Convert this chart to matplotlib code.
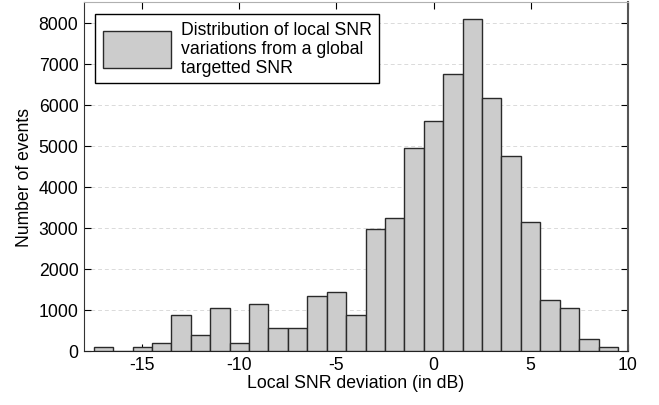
import numpy as np
import matplotlib
matplotlib.use("Agg")
import matplotlib.pyplot as plt

plt.rcParams['font.family'] = ['Liberation Sans', 'DejaVu Sans']
plt.rcParams['axes.unicode_minus'] = False

# bin centers (dB) and counts per 1 dB bin
snr_bins = list(range(-17, 10))
counts = [90, 0, 90, 190, 855, 370, 1040, 190, 1140, 560, 560, 1325, 1425, 855,
          2955, 3230, 4940, 5600, 6745, 8080, 6175, 4750, 3130, 1235, 1040, 285, 80]
x_ticks = [-15, -10, -5, 0, 5, 10]
y_ticks = list(range(0, 9000, 1000))
legend_label = "Distribution of local SNR\nvariations from a global\ntargetted SNR"

fs = 12.7

fig = plt.figure(figsize=(6.59, 4.06), dpi=100)
ax = fig.add_axes([0.1275, 0.1342, 0.8250, 0.8577])

ax.bar(snr_bins, counts, width=1.0, color='#cccccc', edgecolor='#2a2a2a',
       linewidth=1.0, label=legend_label, zorder=3)

ax.set_xlim(-18, 10)
ax.set_ylim(0, 8500)
ax.set_xticks(x_ticks)
ax.set_yticks(y_ticks)
ax.yaxis.grid(True, linestyle=(0, (4, 3)), color='#dadada', linewidth=0.7, zorder=0)
ax.tick_params(direction='in', top=True, right=True, length=5, labelsize=fs,
               pad=4)

ax.spines['top'].set_color('#b0b0b0')
ax.spines['right'].set_color('#555555')
ax.spines['right'].set_linewidth(1.5)
ax.spines['left'].set_color('#333333')
ax.spines['bottom'].set_color('#222222')

ax.set_xlabel("Local SNR deviation (in dB)", fontsize=fs, labelpad=1)
ax.set_ylabel("Number of events", fontsize=fs, labelpad=4)

leg = ax.legend(loc='upper left', fontsize=fs, fancybox=False, framealpha=1,
                edgecolor='black', handlelength=3.86, handleheight=2.78,
                handletextpad=0.6, borderaxespad=0.65, borderpad=0.4,
                labelspacing=0.2)
leg.get_frame().set_linewidth(1.0)
for t in leg.get_texts():
    t.set_linespacing(1.15)

fig.savefig("out.png", dpi=100)
